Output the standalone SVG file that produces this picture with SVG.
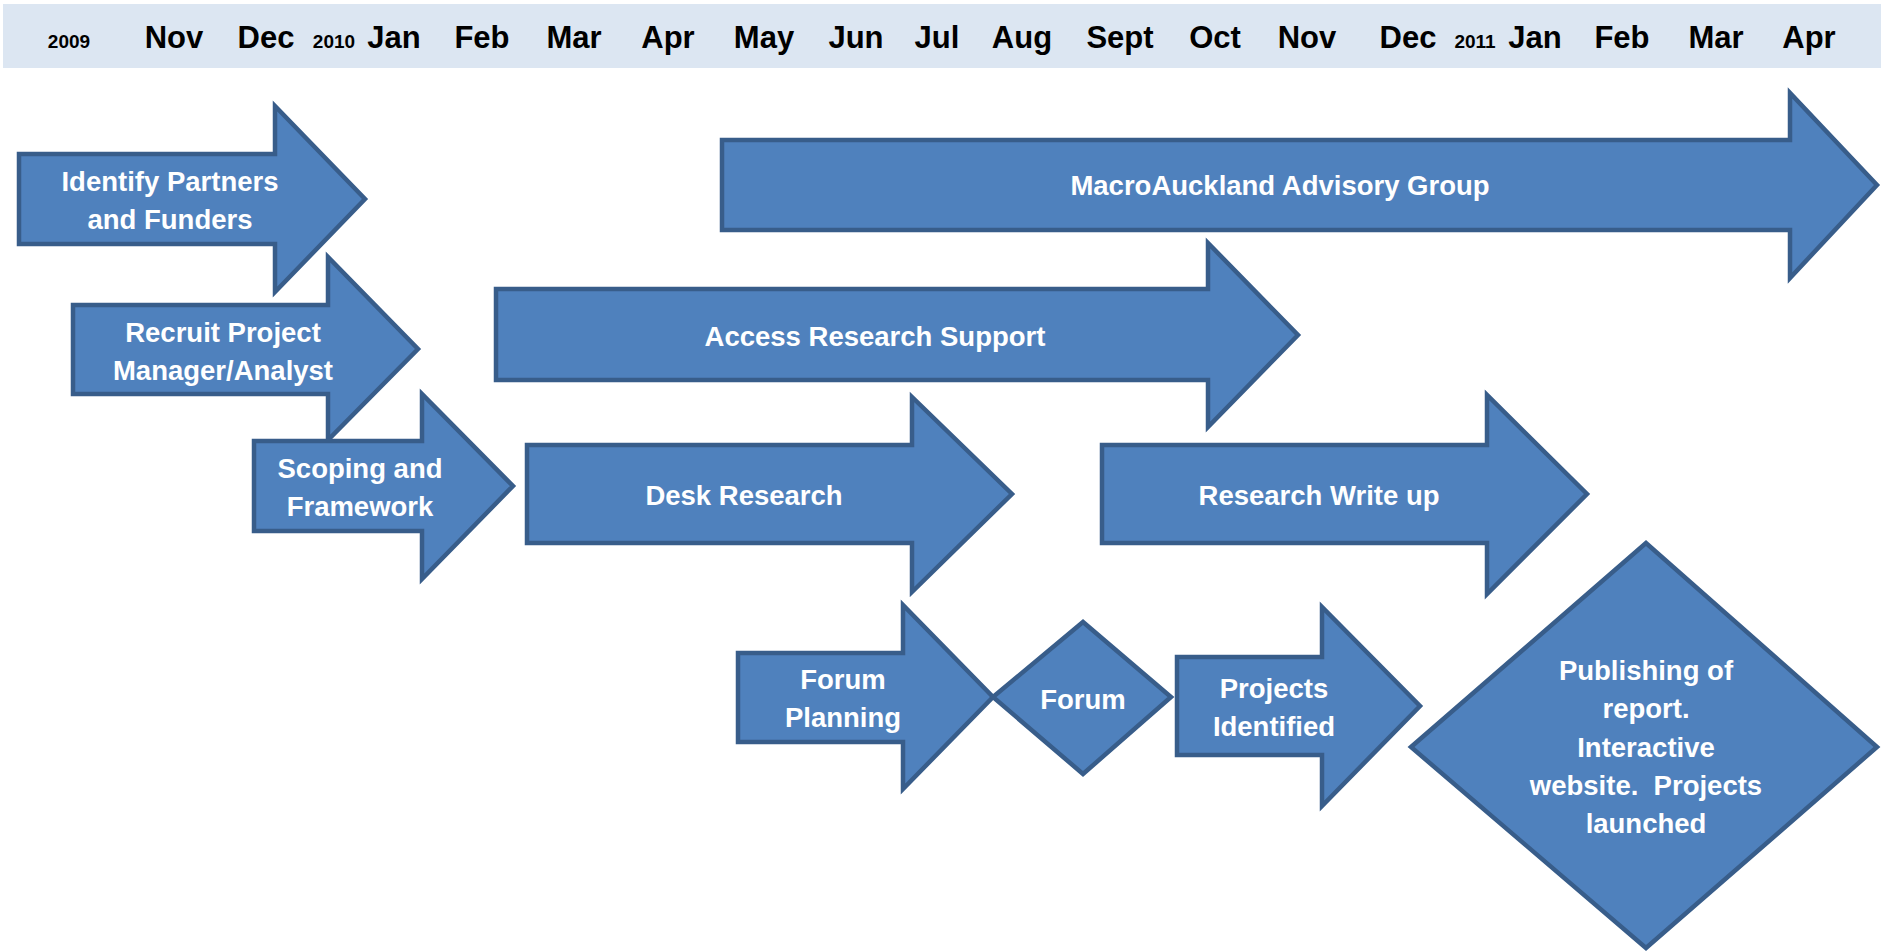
<svg xmlns="http://www.w3.org/2000/svg" width="1881" height="952" viewBox="0 0 1881 952">
<style>
.band{fill:#DCE6F2}
.hdr{font-family:"Liberation Sans",Arial,sans-serif;font-weight:bold;fill:#000;text-anchor:middle}
.m{font-size:31px}
.y{font-size:19px}
.shape{fill:#4F81BD;stroke:#385D8A;stroke-width:4.5;stroke-linejoin:miter}
.lbl{font-family:"Liberation Sans",Arial,sans-serif;font-weight:bold;font-size:27.5px;fill:#FFFFFF;text-anchor:middle;white-space:pre}
</style>
<rect class="band" x="3" y="4" width="1878" height="64"/>
<g id="timeline">
<text class="hdr y" x="69" y="48">2009</text>
<text class="hdr m" x="174" y="48">Nov</text>
<text class="hdr m" x="266" y="48">Dec</text>
<text class="hdr y" x="334" y="48">2010</text>
<text class="hdr m" x="394" y="48">Jan</text>
<text class="hdr m" x="482" y="48">Feb</text>
<text class="hdr m" x="574" y="48">Mar</text>
<text class="hdr m" x="668" y="48">Apr</text>
<text class="hdr m" x="764" y="48">May</text>
<text class="hdr m" x="856" y="48">Jun</text>
<text class="hdr m" x="937" y="48">Jul</text>
<text class="hdr m" x="1022" y="48">Aug</text>
<text class="hdr m" x="1120" y="48">Sept</text>
<text class="hdr m" x="1215" y="48">Oct</text>
<text class="hdr m" x="1307" y="48">Nov</text>
<text class="hdr m" x="1408" y="48">Dec</text>
<text class="hdr y" x="1475" y="48">2011</text>
<text class="hdr m" x="1535" y="48">Jan</text>
<text class="hdr m" x="1622" y="48">Feb</text>
<text class="hdr m" x="1716" y="48">Mar</text>
<text class="hdr m" x="1809" y="48">Apr</text>
</g>
<g id="connectors"/>
<g id="identify">
<polygon class="shape" points="19,154 275,154 275,106 365,199 275,292 275,244 19,244"/>
<text class="lbl" x="170" y="191">Identify Partners</text>
<text class="lbl" x="170" y="229">and Funders</text>
</g>
<g id="recruit">
<polygon class="shape" points="73,305 328,305 328,257 418,349 328,440 328,394 73,394"/>
<text class="lbl" x="223" y="342">Recruit Project</text>
<text class="lbl" x="223" y="380">Manager/Analyst</text>
</g>
<g id="scoping">
<polygon class="shape" points="254,441 422,441 422,394 513,486 422,579 422,531 254,531"/>
<text class="lbl" x="360" y="478">Scoping and</text>
<text class="lbl" x="360" y="516">Framework</text>
</g>
<g id="macroauckland">
<polygon class="shape" points="722,140 1790,140 1790,93 1877,185 1790,278 1790,230 722,230"/>
<text class="lbl" x="1280" y="195">MacroAuckland Advisory Group</text>
</g>
<g id="access">
<polygon class="shape" points="496,289 1208,289 1208,243 1298,335 1208,427 1208,380 496,380"/>
<text class="lbl" x="875" y="346">Access Research Support</text>
</g>
<g id="desk">
<polygon class="shape" points="527,445 912,445 912,397 1012,494 912,592 912,543 527,543"/>
<text class="lbl" x="744" y="505">Desk Research</text>
</g>
<g id="writeup">
<polygon class="shape" points="1102,445 1487,445 1487,395 1587,494 1487,594 1487,543 1102,543"/>
<text class="lbl" x="1319" y="505">Research Write up</text>
</g>
<g id="forumplanning">
<polygon class="shape" points="738,653 903,653 903,605 993,697 903,789 903,742 738,742"/>
<text class="lbl" x="843" y="689">Forum</text>
<text class="lbl" x="843" y="727">Planning</text>
</g>
<g id="forum">
<polygon class="shape" points="993,697 1083,622 1171,697 1083,774"/>
<text class="lbl" x="1083" y="709">Forum</text>
</g>
<g id="projects">
<polygon class="shape" points="1177,657 1322,657 1322,607 1420,706 1322,806 1322,755 1177,755"/>
<text class="lbl" x="1274" y="698">Projects</text>
<text class="lbl" x="1274" y="736">Identified</text>
</g>
<g id="publishing">
<polygon class="shape" points="1411,747 1646,543 1877,747 1646,948"/>
<text class="lbl" x="1646" y="680">Publishing of</text>
<text class="lbl" x="1646" y="718">report.</text>
<text class="lbl" x="1646" y="757">Interactive</text>
<text class="lbl" x="1646" y="795">website.  Projects</text>
<text class="lbl" x="1646" y="833">launched</text>
</g>
</svg>
